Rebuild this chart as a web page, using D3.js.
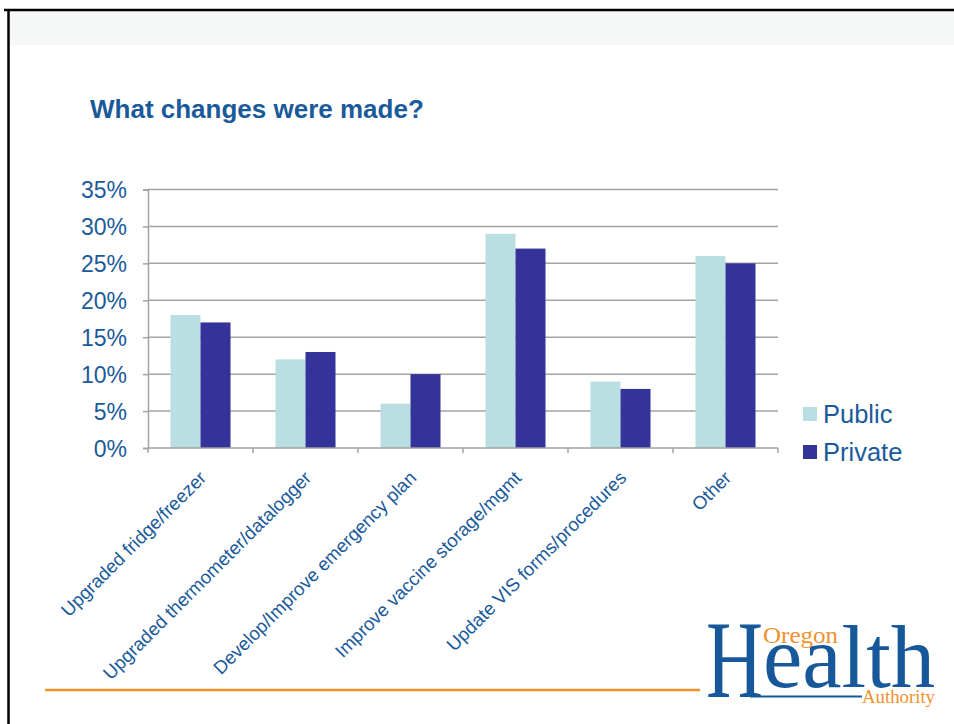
<!DOCTYPE html>
<html>
<head>
<meta charset="utf-8">
<script src="https://cdn.jsdelivr.net/npm/d3@7"></script>
<style>
  html, body { margin: 0; padding: 0; background: #ffffff; }
  svg { display: block; }
</style>
</head>
<body>
<script>
// ---- Data ----
const categories = [
  "Upgraded fridge/freezer",
  "Upgraded thermometer/datalogger",
  "Develop/Improve emergency plan",
  "Improve vaccine storage/mgmt",
  "Update VIS forms/procedures",
  "Other"
];
const seriesNames = ["Public", "Private"];
const publicValues = [18, 12, 6, 29, 9, 26];
const privateValues = [17, 13, 10, 27, 8, 25];
const yTicks = [0, 5, 10, 15, 20, 25, 30, 35];
const titleText = "What changes were made?";

// ---- Styling ----
const W = 954, H = 724;
const textBlue = "#1a5a9a";
const colors = { Public: "#b9dfe2", Private: "#343399" };
const gridColor = "#a3a3a3";
const orange = "#f0922e";
const logoBlue = "#17589a";

const svg = d3.select("body").append("svg")
  .attr("width", W).attr("height", H)
  .style("font-family", "'Liberation Sans', Arial, sans-serif");

// Slide frame
svg.append("rect").attr("x", 9).attr("y", 11).attr("width", W - 9).attr("height", 34)
  .attr("fill", "#f5f8f7");
svg.append("line").attr("x1", 4).attr("x2", W).attr("y1", 10).attr("y2", 10)
  .attr("stroke", "#000").attr("stroke-width", 2.5);
svg.append("line").attr("x1", 8.5).attr("x2", 8.5).attr("y1", 9).attr("y2", H)
  .attr("stroke", "#000").attr("stroke-width", 2.5);

// Title
svg.append("text").attr("x", 90).attr("y", 118)
  .attr("fill", textBlue).attr("font-weight", "bold").attr("font-size", 26)
  .text(titleText);

// ---- Chart ----
const plot = { left: 148, right: 778, top: 189.5, bottom: 448 };

const y = d3.scaleLinear().domain([0, 35]).range([plot.bottom, plot.top]);
const x0 = d3.scaleBand().domain(categories).range([plot.left, plot.right]).padding(0);
const barW = 30;
const x1 = d3.scaleBand().domain(seriesNames)
  .range([x0.bandwidth() / 2 - barW, x0.bandwidth() / 2 + barW]).padding(0);

const data = categories.map((c, i) => ({
  cat: c,
  values: [
    { key: "Public", value: publicValues[i] },
    { key: "Private", value: privateValues[i] }
  ]
}));

// Gridlines
svg.append("g")
  .selectAll("line").data(yTicks.filter(d => d > 0)).join("line")
  .attr("x1", plot.left).attr("x2", plot.right)
  .attr("y1", d => y(d)).attr("y2", d => y(d))
  .attr("stroke", gridColor).attr("stroke-width", 1.5);

// Y axis
const yAxis = svg.append("g")
  .attr("transform", `translate(${plot.left},0)`)
  .call(d3.axisLeft(y).tickValues(yTicks).tickFormat(d => d + "%").tickSize(5).tickPadding(16));
yAxis.select(".domain").attr("stroke", gridColor).attr("stroke-width", 1.5);
yAxis.selectAll(".tick line").attr("stroke", gridColor).attr("stroke-width", 1.5);
yAxis.selectAll(".tick text").attr("fill", textBlue).attr("font-size", 23)
  .attr("font-family", "'Liberation Sans', Arial, sans-serif").attr("dy", "0.36em");

// Bars
const groups = svg.append("g").selectAll("g").data(data).join("g")
  .attr("transform", d => `translate(${x0(d.cat)},0)`);
groups.selectAll("rect").data(d => d.values).join("rect")
  .attr("x", d => x1(d.key))
  .attr("width", x1.bandwidth())
  .attr("y", d => y(d.value))
  .attr("height", d => y(0) - y(d.value))
  .attr("fill", d => colors[d.key]);

// X axis
const xAxis = svg.append("g")
  .attr("transform", `translate(0,${plot.bottom})`);
xAxis.append("line").attr("x1", plot.left).attr("x2", plot.right)
  .attr("y1", 0).attr("y2", 0).attr("stroke", gridColor).attr("stroke-width", 1.5);
const edges = categories.map(c => x0(c)).concat([plot.right]);
xAxis.selectAll("line.tk").data(edges).join("line").attr("class", "tk")
  .attr("x1", d => d).attr("x2", d => d).attr("y1", 0).attr("y2", 5)
  .attr("stroke", gridColor).attr("stroke-width", 1.5);
xAxis.selectAll("text").data(categories).join("text")
  .attr("transform", d => `translate(${x0(d) + x0.bandwidth() / 2 + 7},31) rotate(-45)`)
  .attr("text-anchor", "end")
  .attr("fill", textBlue).attr("font-size", 18.6)
  .text(d => d);

// Legend
const legend = svg.append("g");
const legendRows = [{ key: "Public", y: 407 }, { key: "Private", y: 445 }];
legend.selectAll("rect").data(legendRows).join("rect")
  .attr("x", 803).attr("y", d => d.y).attr("width", 14).attr("height", 14)
  .attr("fill", d => colors[d.key]);
legend.selectAll("text").data(legendRows).join("text")
  .attr("x", 823).attr("y", d => d.y + 16)
  .attr("fill", textBlue).attr("font-size", 25.5)
  .text(d => d.key);

// Footer line
svg.append("line").attr("x1", 45).attr("x2", 700).attr("y1", 690).attr("y2", 690)
  .attr("stroke", orange).attr("stroke-width", 2.5);

// Logo
const logo = svg.append("g").style("font-family", "'Liberation Serif', 'Times New Roman', serif");
logo.append("text").attr("x", 706).attr("y", 697).attr("font-size", 110)
  .attr("textLength", 57).attr("lengthAdjust", "spacingAndGlyphs")
  .attr("fill", logoBlue).text("H");
logo.append("text").attr("x", 763).attr("y", 687).attr("font-size", 88)
  .attr("textLength", 172).attr("lengthAdjust", "spacingAndGlyphs")
  .attr("fill", logoBlue).text("ealth");
logo.append("line").attr("x1", 750).attr("x2", 862).attr("y1", 696.5).attr("y2", 696.5)
  .attr("stroke", logoBlue).attr("stroke-width", 2);
logo.append("text").attr("x", 763).attr("y", 643).attr("font-size", 24)
  .attr("textLength", 75).attr("lengthAdjust", "spacingAndGlyphs")
  .attr("fill", orange).text("Oregon");
logo.append("text").attr("x", 862).attr("y", 703).attr("font-size", 19)
  .attr("textLength", 73).attr("lengthAdjust", "spacingAndGlyphs")
  .attr("fill", orange).text("Authority");
</script>
</body>
</html>
